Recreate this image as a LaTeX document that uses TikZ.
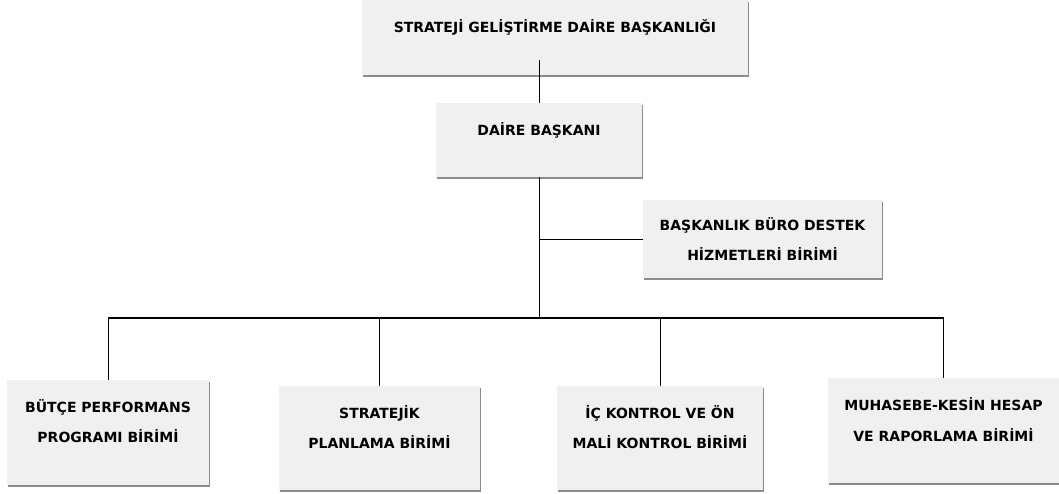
\documentclass[tikz,border=0pt]{standalone}
\usepackage{fontspec}
\setmainfont{DejaVu Sans}
\usetikzlibrary{shadows}

\tikzset{
  orgbox/.style={fill=black!6, align=center, inner sep=0pt,
    font=\bfseries\fontsize{14}{30}\selectfont,
    drop shadow={shadow xshift=1pt, shadow yshift=-2pt, fill=black, opacity=.45}},
  raised/.style={text depth=22pt},
  link/.style={line width=0.9pt},
  busline/.style={line width=1.4pt}
}

\begin{document}
\begin{tikzpicture}[x=1pt,y=-1pt]
  \useasboundingbox (0,0) rectangle (1059,493);
  % boxes
  \node[orgbox,raised,minimum width=386pt,minimum height=75pt] (top) at (555,37.5) {STRATEJİ GELİŞTİRME DAİRE BAŞKANLIĞI};
  \node[orgbox,raised,minimum width=206pt,minimum height=74pt] (daire) at (539,140) {DAİRE BAŞKANI};
  \node[orgbox,minimum width=239pt,minimum height=78pt] (buro) at (762.5,239) {BAŞKANLIK BÜRO DESTEK\\HİZMETLERİ BİRİMİ};
  \node[orgbox,raised,minimum width=202pt,minimum height=105pt] (butce) at (108,432.5) {BÜTÇE PERFORMANS\\PROGRAMI BİRİMİ};
  \node[orgbox,raised,minimum width=201pt,minimum height=104pt] (plan) at (379.5,438) {STRATEJİK\\PLANLAMA BİRİMİ};
  \node[orgbox,raised,minimum width=206pt,minimum height=104pt] (ickontrol) at (660,438) {İÇ KONTROL VE ÖN\\MALİ KONTROL BİRİMİ};
  \node[orgbox,raised,minimum width=231pt,minimum height=105pt] (muhasebe) at (943.5,430.5) {MUHASEBE-KESİN HESAP\\VE RAPORLAMA BİRİMİ};
  % connectors
  \coordinate (bus) at (539,318);
  \draw[link] (daire.north) -- ([yshift=15pt]daire.north |- top.south);
  \draw[link] (daire.south) -- (bus);
  \draw[link] (daire.south |- buro.west) -- (buro.west);
  \draw[busline] (butce.north |- bus) -- (muhasebe.north |- bus);
  \foreach \b in {butce,plan,ickontrol,muhasebe}
    \draw[link] (\b.north |- bus) -- (\b.north);
\end{tikzpicture}
\end{document}
